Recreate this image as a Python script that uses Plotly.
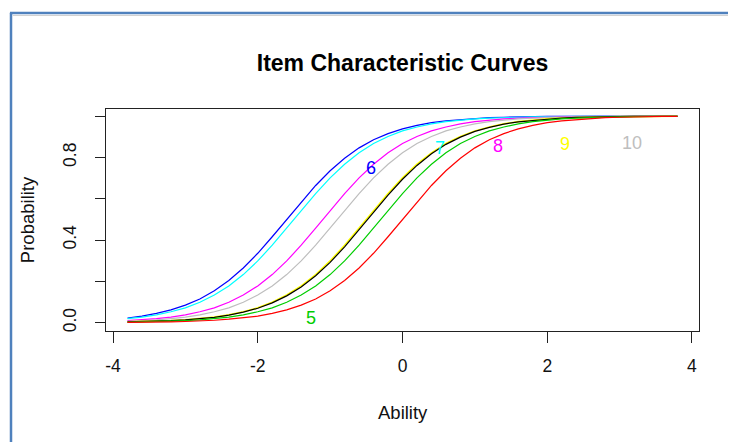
import plotly.graph_objects as go

# ---- data ----
ability = [round(-3.8 + 0.2 * j, 1) for j in range(39)]

p_blue = [.023, .032, .045, .062, .085, .115, .155, .204, .265, .336, .416, .500, .584, .664, .735, .796,
          .846, .885, .915, .938, .955, .968, .977, .983, .988, .992, .994, .996, .997, .998, .998, .999,
          .999, .999, 1.0, 1.0, 1.0, 1.0, 1.0]
p_cyan = [.020, .027, .038, .053, .072, .099, .134, .178, .233, .299, .375, .458, .542, .625, .701, .767,
          .822, .867, .901, .928, .947, .962, .973, .980, .986, .990, .993, .995, .996, .997, .998, .999,
          .999, .999, 1.0, 1.0, 1.0, 1.0, 1.0]
p_magenta = [.010, .014, .020, .027, .038, .053, .072, .099, .134, .178, .233, .299, .375, .458, .542, .625,
             .701, .767, .822, .867, .901, .928, .947, .962, .973, .980, .986, .990, .993, .995, .996, .997,
             .998, .999, .999, .999, 1.0, 1.0, 1.0]
p_gray = [.007, .010, .014, .020, .027, .038, .053, .072, .099, .134, .178, .233, .299, .375, .458, .542,
          .625, .701, .767, .822, .867, .901, .928, .947, .962, .973, .980, .986, .990, .993, .995, .996,
          .997, .998, .999, .999, .999, 1.0, 1.0]
p_yellow = [.004, .005, .007, .010, .014, .020, .027, .038, .053, .072, .099, .134, .178, .233, .299, .375,
            .458, .542, .625, .701, .767, .822, .867, .901, .928, .947, .962, .973, .980, .986, .990, .993,
            .995, .996, .997, .998, .999, .999, .999]
p_black = [.004, .005, .007, .010, .014, .019, .026, .037, .051, .070, .096, .130, .173, .227, .292, .367,
           .450, .534, .617, .694, .761, .817, .863, .898, .926, .945, .961, .972, .979, .985, .990, .993,
           .995, .996, .997, .998, .999, .999, .999]
p_green = [.003, .004, .005, .007, .010, .014, .020, .027, .038, .053, .072, .099, .134, .178, .233, .299,
           .375, .458, .542, .625, .701, .767, .822, .867, .901, .928, .947, .962, .973, .980, .986, .990,
           .993, .995, .996, .997, .998, .999, .999]
p_red = [.002, .002, .003, .004, .006, .008, .012, .017, .023, .032, .045, .062, .085, .115, .155, .204,
         .265, .336, .416, .500, .584, .664, .735, .796, .846, .885, .915, .938, .955, .968, .977, .983,
         .988, .992, .994, .996, .997, .998, .998]

curves = [
    (p_blue, "#0000FF", 1.2),
    (p_cyan, "#00FFFF", 1.2),
    (p_magenta, "#FF00FF", 1.2),
    (p_gray, "#BEBEBE", 1.2),
    (p_yellow, "#FFFF00", 1.6),
    (p_black, "#000000", 1.2),
    (p_green, "#00CD00", 1.2),
    (p_red, "#FF0000", 1.2),
]

item_labels = ["5", "6", "7", "8", "9", "10"]
label_x = [-1.27, -0.44, 0.52, 1.32, 2.24, 3.17]
label_y = [0.021, 0.747, 0.845, 0.855, 0.863, 0.871]
label_colors = ["#00CD00", "#0000FF", "#00FFFF", "#FF00FF", "#FFFF00", "#BEBEBE"]

x_ticks = [-4, -2, 0, 2, 4]
y_ticks = [0.0, 0.2, 0.4, 0.6, 0.8, 1.0]
y_ticktext = ["0.0", "", "0.4", "", "0.8", ""]

FONT = "Liberation Sans, Arial, sans-serif"

fig = go.Figure()
for vals, col, w in curves:
    fig.add_trace(go.Scatter(x=ability, y=vals, mode="lines",
                             line=dict(color=col, width=w), showlegend=False,
                             hoverinfo="skip"))

for t, x, y, c in zip(item_labels, label_x, label_y, label_colors):
    fig.add_annotation(x=x, y=y, xref="x", yref="y", text=t, showarrow=False,
                       font=dict(family=FONT, size=18, color=c),
                       xanchor="center", yanchor="middle")

# axis titles
fig.add_annotation(x=0.5, y=-0.365, xref="paper", yref="paper", text="Ability",
                   showarrow=False, font=dict(family=FONT, size=18.5, color="#111"),
                   xanchor="center", yanchor="middle")
fig.add_annotation(x=-0.133, y=0.5, xref="paper", yref="paper", text="Probability",
                   showarrow=False, textangle=-90,
                   font=dict(family=FONT, size=18.5, color="#111"),
                   xanchor="center", yanchor="middle")

# window frame (blue border of the screenshot)
fig.add_shape(type="line", xref="paper", yref="paper", x0=-0.162, x1=1.07, y0=1.4324, y1=1.4324,
              line=dict(color="#4F81BD", width=2.5), layer="above")
fig.add_shape(type="line", xref="paper", yref="paper", x0=-0.157, x1=1.07, y0=1.421, y1=1.421,
              line=dict(color="#D0D0D0", width=1), layer="above")
fig.add_shape(type="line", xref="paper", yref="paper", x0=-0.1602, x1=-0.1602, y0=1.4324, y1=-0.52,
              line=dict(color="#4F81BD", width=2.5), layer="above")

# the page body adds an 8px offset, so the figure is 8px smaller and shifted up/left
fig.update_layout(
    width=728, height=434,
    margin=dict(l=98, r=37, t=101, b=111),
    paper_bgcolor="white", plot_bgcolor="white",
    font=dict(family=FONT, color="#111"),
    title=dict(text="Item Characteristic Curves", x=0.5, xref="paper", xanchor="center",
               y=1 - 55 / 434, yref="container", yanchor="middle",
               font=dict(family=FONT, size=23, color="#000", weight="bold")),
    xaxis=dict(range=[-4.097, 4.097], tickvals=x_ticks, ticktext=[str(v) for v in x_ticks],
               showgrid=False, zeroline=False, showline=True, mirror=True,
               linecolor="#222", linewidth=1, ticks="outside", ticklen=11, tickcolor="#222",
               tickfont=dict(family=FONT, size=17.5, color="#111"), ticklabelstandoff=8),
    yaxis=dict(range=[-0.040, 1.034], tickvals=y_ticks, ticktext=y_ticktext,
               showgrid=False, zeroline=False, showline=True, mirror=True,
               linecolor="#222", linewidth=1, ticks="outside", ticklen=10, tickcolor="#222",
               tickangle=-90,
               tickfont=dict(family=FONT, size=17.5, color="#111"), ticklabelstandoff=12),
)

fig.write_html("out.html")
